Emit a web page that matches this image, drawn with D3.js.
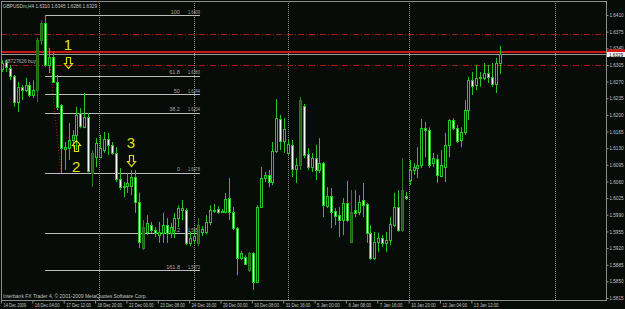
<!DOCTYPE html>
<html lang="en">
<head>
<meta charset="UTF-8" />
<title>GBPUSDm,H4</title>
<script src="https://d3js.org/d3.v7.min.js"></script>
<style>
  html, body { margin: 0; padding: 0; background: #080c08; }
  svg { display: block; font-family: Arial, 'Liberation Sans', sans-serif; }
</style>
</head>
<body>
<svg width="625" height="309"></svg>
<script>
// H4 bars, 14 Dec 2009 .. 13 Jan 2010
const open = [
  1.6296,1.6311,1.6299,1.6282,1.6227,1.6259,1.6252,1.6263,1.6242,1.6252,
  1.6357,1.6393,1.6305,1.6322,1.6269,1.6221,1.6128,1.6130,1.6147,1.6158,
  1.6204,1.6174,1.6195,1.6120,1.6111,1.6111,1.6126,1.6149,1.6137,1.6120,
  1.6065,1.6050,1.6050,1.6050,1.6069,1.6017,1.5920,1.5954,1.5968,1.5958,
  1.5947,1.5952,1.5968,1.5952,1.5958,1.5983,1.6000,1.6000,1.5931,1.5937,
  1.5931,1.5954,1.5954,1.5975,1.5998,1.6002,1.5996,1.5996,1.6025,1.5996,
  1.5962,1.5899,1.5901,1.5874,1.5909,1.5848,1.6006,1.6067,1.6074,1.6059,
  1.6124,1.6191,1.6145,1.6120,1.6137,1.6086,1.6095,1.6219,1.6118,1.6090,
  1.6109,1.6084,1.6099,1.6008,1.6029,1.5998,1.5989,1.5979,1.6015,1.5996,
  1.6000,1.5996,1.6021,1.6013,1.5952,1.5899,1.5933,1.5941,1.5931,1.5937,
  1.5968,1.6006,1.5958,1.6029,1.6063,1.6084,1.6088,1.6095,1.6172,1.6168,
  1.6099,1.6107,1.6071,1.6090,1.6137,1.6189,1.6172,1.6147,1.6164,1.6210,
  1.6273,1.6263,1.6278,1.6278,1.6288,1.6280,1.6265,1.6310
];
const high = [
  1.6315,1.6315,1.6305,1.6284,1.6269,1.6263,1.6278,1.6269,1.6273,1.6362,
  1.6399,1.6409,1.6341,1.6332,1.6284,1.6223,1.6143,1.6183,1.6168,1.6217,
  1.6214,1.6246,1.6204,1.6126,1.6151,1.6158,1.6164,1.6162,1.6143,1.6132,
  1.6088,1.6059,1.6078,1.6084,1.6084,1.6036,1.5979,1.5989,1.5975,1.5964,
  1.5975,1.5994,1.5983,1.5973,1.5994,1.6010,1.6021,1.6004,1.5954,1.5958,
  1.5983,1.5966,1.5989,1.6010,1.6013,1.6008,1.6002,1.6036,1.6067,1.6006,
  1.5964,1.5914,1.5905,1.5912,1.5912,1.6010,1.6090,1.6080,1.6084,1.6143,
  1.6233,1.6200,1.6193,1.6149,1.6147,1.6109,1.6238,1.6223,1.6130,1.6120,
  1.6137,1.6151,1.6101,1.6048,1.6046,1.6004,1.6006,1.6025,1.6061,1.6042,
  1.6042,1.6031,1.6057,1.6015,1.5968,1.5954,1.5952,1.5947,1.5954,1.5985,
  1.6036,1.6042,1.6109,1.6038,1.6105,1.6099,1.6132,1.6191,1.6185,1.6174,
  1.6120,1.6116,1.6126,1.6162,1.6191,1.6193,1.6179,1.6174,1.6231,1.6280,
  1.6290,1.6305,1.6290,1.6309,1.6305,1.6309,1.6320,1.6345
];
const low = [
  1.6290,1.6290,1.6273,1.6217,1.6206,1.6231,1.6248,1.6238,1.6235,1.6227,
  1.6347,1.6301,1.6288,1.6267,1.6210,1.6078,1.6084,1.6105,1.6132,1.6126,
  1.6172,1.6172,1.6079,1.6048,1.6090,1.6109,1.6120,1.6116,1.6116,1.6059,
  1.6042,1.6027,1.6036,1.6031,1.5994,1.5920,1.5916,1.5947,1.5952,1.5943,
  1.5931,1.5931,1.5931,1.5941,1.5941,1.5964,1.5979,1.5926,1.5924,1.5928,
  1.5924,1.5945,1.5949,1.5968,1.5994,1.5992,1.5994,1.5994,1.5979,1.5958,
  1.5863,1.5895,1.5884,1.5870,1.5832,1.5846,1.6004,1.6059,1.6048,1.6052,
  1.6120,1.6126,1.6120,1.6116,1.6069,1.6057,1.6084,1.6109,1.6084,1.6080,
  1.6063,1.6078,1.5985,1.6004,1.5962,1.5968,1.5943,1.5947,1.5975,1.5933,
  1.5985,1.5989,1.5985,1.5931,1.5895,1.5895,1.5912,1.5922,1.5912,1.5926,
  1.5964,1.5954,1.5954,1.6021,1.6052,1.6074,1.6067,1.6088,1.6111,1.6088,
  1.6090,1.6057,1.6069,1.6059,1.6111,1.6168,1.6141,1.6132,1.6158,1.6189,
  1.6242,1.6252,1.6259,1.6273,1.6267,1.6259,1.6246,1.6286
];
const close = [
  1.6309,1.6301,1.6282,1.6227,1.6259,1.6252,1.6263,1.6242,1.6252,1.6357,
  1.6393,1.6305,1.6322,1.6269,1.6217,1.6130,1.6132,1.6147,1.6158,1.6200,
  1.6177,1.6195,1.6081,1.6078,1.6141,1.6130,1.6149,1.6137,1.6120,1.6065,
  1.6048,1.6048,1.6057,1.6069,1.6017,1.5933,1.5964,1.5973,1.5958,1.5952,
  1.5954,1.5968,1.5952,1.5964,1.5983,1.6004,1.6004,1.5931,1.5941,1.5945,
  1.5968,1.5960,1.5975,1.6000,1.6000,1.5996,1.5998,1.6023,1.5996,1.5962,
  1.5899,1.5909,1.5886,1.5909,1.5848,1.6006,1.6067,1.6074,1.6059,1.6124,
  1.6193,1.6145,1.6170,1.6139,1.6086,1.6095,1.6231,1.6116,1.6090,1.6109,
  1.6084,1.6099,1.6010,1.6029,1.5996,1.5987,1.5979,1.6015,1.5979,1.5933,
  1.5994,1.6017,1.6010,1.5952,1.5899,1.5933,1.5941,1.5931,1.5937,1.5970,
  1.6006,1.5958,1.6042,1.6025,1.6084,1.6090,1.6095,1.6172,1.6168,1.6095,
  1.6109,1.6074,1.6095,1.6137,1.6189,1.6172,1.6145,1.6164,1.6210,1.6273,
  1.6261,1.6278,1.6280,1.6288,1.6280,1.6265,1.6309,1.6329
];
// bars drawn in the darker fill
const dimBars = [9, 10, 23, 36, 50, 63, 76, 89, 102];

const priceTicks = [1.5815, 1.5850, 1.5885, 1.5920, 1.5955, 1.5990, 1.6025, 1.6060, 1.6095,
  1.6130, 1.6165, 1.6200, 1.6235, 1.6270, 1.6305, 1.6340, 1.6375, 1.6410];
const timeTicks = [0, 8, 16, 24, 32, 40, 48, 56, 64, 72, 80, 88, 96, 104, 112, 120];
const timeLabels = ['14 Dec 2009', '16 Dec 04:00', '17 Dec 12:00', '18 Dec 20:00', '22 Dec 00:00',
  '23 Dec 08:00', '24 Dec 16:00', '29 Dec 00:00', '30 Dec 08:00', '31 Dec 16:00', '5 Jan 00:00',
  '6 Jan 08:00', '7 Jan 16:00', '10 Jan 20:00', '12 Jan 04:00', '13 Jan 12:00'];
const separators = [24.75, 49, 73, 103.85, 141.1];

// fibonacci retracement
const fibHigh = 1.6409, fibLow = 1.6078;
const fibAnchors = [11, 15];
const fibRightEnd = 50.5;
const fibLevels = [1, 0.618, 0.5, 0.382, 0, -0.382, -0.618];
const fibNames = ['100', '61.8', '50', '38.2', '0', '138.2', '161.8'];

const redDashLines = [1.6370, 1.6305];
const redLine = 1.6332;
const bid = 1.6329;

const marks = [
  { text: '1', bar: 16.8, price: 1.6336 },
  { text: '2', bar: 18.9, price: 1.6080 },
  { text: '3', bar: 32.9, price: 1.6130 },
];
const arrows = [
  { dir: 'down', bar: 16.8, price: 1.6321 },
  { dir: 'up', bar: 18.9, price: 1.6147 },
  { dir: 'down', bar: 32.9, price: 1.6115 },
];

const W = 625, H = 309;
const plotL = 1, plotT = 1, plotR = 606, plotB = 300;
const bg = '#080c08';
const green = '#26c426';
const axisText = '#c4c4c4';

const svg = d3.select('svg');
svg.append('rect').attr('width', W).attr('height', H).attr('fill', bg);

const x = d3.scaleLinear().domain([0, 127]).range([2, 499.8]);
const y = d3.scaleLinear().domain([1.5815, 1.6410]).range([298, 15]);
const px = (v) => Math.round(v) + 0.5;

// period separators
svg.append('g')
  .selectAll('line')
  .data(separators)
  .join('line')
  .attr('x1', (d) => px(x(d))).attr('x2', (d) => px(x(d)))
  .attr('y1', plotT).attr('y2', plotB)
  .attr('stroke', '#8a8a8a')
  .attr('stroke-dasharray', '1,1');

// red horizontal lines
svg.append('g')
  .selectAll('line')
  .data(redDashLines)
  .join('line')
  .attr('x1', plotL).attr('x2', plotR)
  .attr('y1', (d) => px(y(d))).attr('y2', (d) => px(y(d)))
  .attr('stroke', '#a81818')
  .attr('stroke-dasharray', '6,2,1,2');

svg.append('line')
  .attr('x1', plotL).attr('x2', W)
  .attr('y1', y(redLine)).attr('y2', y(redLine))
  .attr('stroke', '#d01818').attr('stroke-width', 2);

// bid line
svg.append('line')
  .attr('x1', plotL).attr('x2', plotR)
  .attr('y1', px(y(bid))).attr('y2', px(y(bid)))
  .attr('stroke', '#9a9a9a');

// fibo levels
const fx0 = x(fibAnchors[0]), fx1 = x(fibRightEnd);
const fib = svg.append('g');
const fibData = fibLevels.map((l, i) => {
  const p = fibLow + l * (fibHigh - fibLow);
  return { name: fibNames[i], price: p, label: (Math.round(p * 10000 + 1e-6) / 10000).toFixed(4) };
});
fib.selectAll('line')
  .data(fibData)
  .join('line')
  .attr('x1', fx0).attr('x2', fx1)
  .attr('y1', (d) => px(y(d.price))).attr('y2', (d) => px(y(d.price)))
  .attr('stroke', '#bdbdbd');
fib.selectAll('text.name')
  .data(fibData)
  .join('text')
  .attr('class', 'name')
  .attr('x', fx1 - 20).attr('y', (d) => y(d.price) - 1.5)
  .attr('text-anchor', 'end')
  .attr('font-size', 5.5)
  .attr('fill', '#a8a8a8')
  .text((d) => d.name);
fib.selectAll('text.price')
  .data(fibData)
  .join('text')
  .attr('class', 'price')
  .attr('x', fx1 - 12).attr('y', (d) => y(d.price) - 1.5)
  .attr('font-size', 5)
  .attr('textLength', 12)
  .attr('lengthAdjust', 'spacingAndGlyphs')
  .attr('fill', '#a8a8a8')
  .text((d) => d.label);
svg.append('line')
  .attr('x1', x(fibAnchors[0])).attr('y1', y(fibHigh))
  .attr('x2', x(fibAnchors[1])).attr('y2', y(fibLow))
  .attr('stroke', '#c01010')
  .attr('stroke-dasharray', '1,2');

// candles
const bars = d3.range(open.length).map((i) => ({
  i, o: open[i], h: high[i], l: low[i], c: close[i], dim: dimBars.includes(i),
}));
const candle = svg.append('g')
  .selectAll('g')
  .data(bars)
  .join('g');
candle.append('line')
  .attr('x1', (d) => px(x(d.i))).attr('x2', (d) => px(x(d.i)))
  .attr('y1', (d) => y(d.h)).attr('y2', (d) => y(d.l))
  .attr('stroke', (d) => (d.dim ? '#2a7a1e' : green));
candle.append('rect')
  .attr('x', (d) => Math.round(x(d.i)) - 0.5)
  .attr('width', 2)
  .attr('y', (d) => Math.round(y(Math.max(d.o, d.c))) + 0.5)
  .attr('height', (d) => Math.max(0.5, Math.round(y(Math.min(d.o, d.c))) - Math.round(y(Math.max(d.o, d.c)))))
  .attr('fill', (d) => (d.dim ? '#1f5f16' : d.c < d.o ? '#f4fff4' : bg))
  .attr('stroke', (d) => (d.dim ? '#2a7a1e' : green));

// annotations
svg.append('g')
  .selectAll('text')
  .data(marks)
  .join('text')
  .attr('x', (d) => x(d.bar)).attr('y', (d) => y(d.price))
  .attr('text-anchor', 'middle')
  .attr('font-size', 15)
  .attr('fill', '#e0e010')
  .text((d) => d.text);

function arrowPath(d) {
  const cx = Math.round(x(d.bar)) + 0.5, t = Math.round(y(d.price)) + 0.5;
  if (d.dir === 'down') {
    return `M${cx - 2},${t}H${cx + 2}V${t + 6}H${cx + 4}L${cx},${t + 11}L${cx - 4},${t + 6}H${cx - 2}Z`;
  }
  return `M${cx},${t}L${cx + 4},${t + 5}H${cx + 2}V${t + 11}H${cx - 2}V${t + 5}H${cx - 4}Z`;
}
svg.append('g')
  .selectAll('path')
  .data(arrows)
  .join('path')
  .attr('d', arrowPath)
  .attr('fill', 'none')
  .attr('stroke', '#e0e010')
  .attr('stroke-width', 1.2);

// frame
svg.append('rect')
  .attr('x', plotL + 0.5).attr('y', plotT + 0.5)
  .attr('width', plotR - plotL).attr('height', plotB - plotT)
  .attr('fill', 'none')
  .attr('stroke', '#8e8e8e');

// price axis
const yAxis = svg.append('g')
  .attr('transform', `translate(${plotR + 0.5},0)`)
  .call(d3.axisRight(y).tickValues(priceTicks).tickSize(2).tickPadding(1).tickFormat(d3.format('.4f')));
yAxis.select('.domain').remove();
yAxis.selectAll('line').attr('stroke', '#8e8e8e');
yAxis.selectAll('text')
  .attr('fill', axisText)
  .attr('font-size', 5)
  .attr('font-family', 'Arial, sans-serif')
  .attr('textLength', 14)
  .attr('lengthAdjust', 'spacingAndGlyphs');

// red line and bid labels on the price axis
svg.append('rect')
  .attr('x', plotR + 1).attr('y', y(redLine) - 2.8)
  .attr('width', W - plotR).attr('height', 3)
  .attr('fill', '#d01818');
svg.append('rect')
  .attr('x', plotR + 1).attr('y', y(bid) - 1.5)
  .attr('width', W - plotR).attr('height', 5)
  .attr('fill', '#f4f4f4');
svg.append('text')
  .attr('x', plotR + 3).attr('y', y(bid) + 3)
  .attr('font-size', 5)
  .attr('textLength', 14)
  .attr('lengthAdjust', 'spacingAndGlyphs')
  .attr('fill', '#000')
  .text(bid.toFixed(4));

// time axis
const xAxis = svg.append('g')
  .attr('transform', `translate(-1,${plotB + 0.5})`)
  .call(d3.axisBottom(x).tickValues(timeTicks).tickSize(3).tickFormat((d, i) => timeLabels[i]));
xAxis.select('.domain').remove();
xAxis.selectAll('line').attr('stroke', '#8e8e8e');
xAxis.selectAll('text')
  .attr('fill', axisText)
  .attr('font-size', 5)
  .attr('font-family', 'Arial, sans-serif')
  .attr('text-anchor', 'start')
  .attr('x', 2)
  .attr('y', 0)
  .attr('dy', '6')
  .attr('textLength', (d, i) => timeLabels[i].length * 2.05)
  .attr('lengthAdjust', 'spacingAndGlyphs');

// header and footer texts
svg.append('text')
  .attr('x', 3).attr('y', 7.5)
  .attr('font-size', 6)
  .attr('textLength', 94)
  .attr('lengthAdjust', 'spacingAndGlyphs')
  .attr('fill', '#c8c8c8')
  .text(`GBPUSDm,H4  ${open[127].toFixed(4)} ${high[127].toFixed(4)} ${low[127].toFixed(4)} ${close[127].toFixed(4)}`);
svg.append('text')
  .attr('x', 5).attr('y', y(redDashLines[1]) - 1.5)
  .attr('font-size', 5.5)
  .attr('textLength', 31)
  .attr('lengthAdjust', 'spacingAndGlyphs')
  .attr('fill', '#b0b0b0')
  .text('#8727626 buy');
svg.append('text')
  .attr('x', 3).attr('y', 297.5)
  .attr('font-size', 5)
  .attr('textLength', 144)
  .attr('lengthAdjust', 'spacingAndGlyphs')
  .attr('fill', '#c0c0c0')
  .text('Interbank FX Trader 4, © 2001-2009 MetaQuotes Software Corp.');
</script>
</body>
</html>
